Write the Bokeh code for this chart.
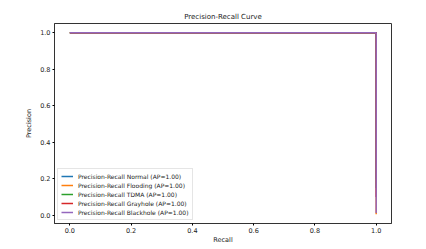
from bokeh.plotting import figure
from bokeh.embed import file_html
from bokeh.resources import INLINE
from bokeh.models import FixedTicker, Range1d, Legend, LegendItem

classes = ["Normal", "Flooding", "TDMA", "Grayhole", "Blackhole"]
ap_values = [1.00, 1.00, 1.00, 1.00, 1.00]
recall_pts = [[0.0, 1.0, 1.0]] * 5
precision_pts = [
    [1.0, 1.0, 0.20],
    [1.0, 1.0, 0.005],
    [1.0, 1.0, 0.15],
    [1.0, 1.0, 0.10],
    [1.0, 1.0, 0.012],
]
colors = ["#1f77b4", "#ff7f0e", "#2ca02c", "#d62728", "#9467bd"]
ticks = [0.0, 0.2, 0.4, 0.6, 0.8, 1.0]

FONT = "DejaVu Sans"

p = figure(width=418, height=246, output_backend="svg", toolbar_location=None,
           x_range=Range1d(-0.05, 1.05), y_range=Range1d(-0.045, 1.05),
           min_border_left=54, min_border_right=27, min_border_top=23, min_border_bottom=18,
           title="Precision-Recall Curve")
p.title.text_font = FONT
p.title.text_font_size = "7px"
p.title.text_font_style = "normal"
p.title.align = "center"
p.title.text_color = "#222222"
p.title.standoff = 5

p.grid.visible = False
p.outline_line_color = "#333333"
p.outline_line_width = 1
p.background_fill_color = "white"
p.border_fill_color = "white"

for ax in (p.xaxis[0], p.yaxis[0]):
    ax.ticker = FixedTicker(ticks=ticks)
    ax.major_label_overrides = {t: f"{t:.1f}" for t in ticks}
    ax.major_label_text_font = FONT
    ax.major_label_text_font_size = "6.5px"
    ax.major_label_text_color = "#222222"
    ax.axis_label_text_font = FONT
    ax.axis_label_text_font_size = "6.5px"
    ax.axis_label_text_font_style = "normal"
    ax.axis_label_text_color = "#222222"
    ax.minor_tick_line_color = None
    ax.major_tick_out = 2
    ax.major_tick_in = 0
    ax.axis_line_color = "#333333"
    ax.major_label_standoff = 2

p.xaxis.axis_label_standoff = 0
p.yaxis.axis_label_standoff = 4
p.xaxis.axis_label = "Recall"
p.yaxis.axis_label = "Precision"

items = []
for name, ap, r, pr, c in zip(classes, ap_values, recall_pts, precision_pts, colors):
    rend = p.line(r, pr, line_color=c, line_width=1.5)
    items.append(LegendItem(label=f"Precision-Recall {name} (AP={ap:.2f})", renderers=[rend]))

legend = Legend(items=items, location="bottom_left")
legend.label_text_font = FONT
legend.label_text_font_size = "6px"
legend.label_text_color = "#222222"
legend.label_height = 8
legend.glyph_height = 8
legend.glyph_width = 12
legend.spacing = 1
legend.padding = 3
legend.margin = 3
legend.label_standoff = 5
legend.border_line_color = "#cccccc"
legend.border_line_width = 1
legend.background_fill_alpha = 0.8
p.add_layout(legend)

open("out.html", "w").write(file_html(p, INLINE))
